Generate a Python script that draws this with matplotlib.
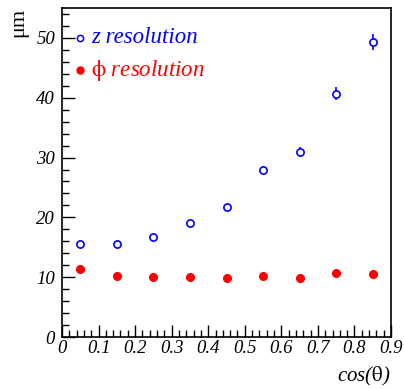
import numpy as np
import matplotlib.pyplot as plt
from matplotlib.ticker import MultipleLocator, FuncFormatter

cos_theta = [0.05, 0.15, 0.25, 0.35, 0.45, 0.55, 0.65, 0.75, 0.85]
z_res = [15.5, 15.6, 16.8, 19.1, 21.7, 27.9, 31.0, 40.7, 49.3]
z_err = [0.4, 0.4, 0.5, 0.5, 0.4, 0.7, 0.7, 1.1, 1.4]
phi_res = [11.3, 10.2, 10.1, 10.1, 9.9, 10.2, 9.8, 10.7, 10.5]

plt.rcParams['font.family'] = ['Liberation Serif', 'DejaVu Serif']
plt.rcParams['mathtext.fontset'] = 'stix'

fig = plt.figure(figsize=(4.04, 3.89), dpi=100)
ax = fig.add_axes([62 / 404, 1 - 337 / 389, 329 / 404, 329 / 389])

ax.errorbar(cos_theta, z_res, yerr=z_err, fmt='o', mfc='white', mec='blue',
            ecolor='blue', ms=5.2, mew=1.2, elinewidth=1.2, capsize=0, zorder=3)
ax.plot(cos_theta, phi_res, 'o', color='red', ms=5.5, zorder=3)

ax.set_xlim(0, 0.9)
ax.set_ylim(0, 55)
ax.xaxis.set_major_locator(MultipleLocator(0.1))
ax.xaxis.set_minor_locator(MultipleLocator(0.02))
ax.yaxis.set_major_locator(MultipleLocator(10))
ax.yaxis.set_minor_locator(MultipleLocator(2))
ax.xaxis.set_major_formatter(FuncFormatter(lambda v, p: '0' if abs(v) < 1e-9 else '%.1f' % v))
ax.yaxis.set_major_formatter(FuncFormatter(lambda v, p: '%d' % round(v)))
ax.tick_params(which='both', direction='in', top=False, right=False)
ax.tick_params(which='major', length=9, width=1, labelsize=13.5)
ax.tick_params(which='minor', length=5, width=1)
ax.tick_params(axis='x', pad=2)
ax.tick_params(axis='y', pad=5)
for lab in ax.get_xticklabels() + ax.get_yticklabels():
    lab.set_style('italic')
for s in ax.spines.values():
    s.set_linewidth(1.2)

fig.text(19 / 404, 1 - 22 / 389, 'μm', rotation=90, fontsize=16,
         ha='center', va='center')
fig.text(390 / 404, 1 - 376 / 389, r'cos($\mathrm{\theta}$)', fontsize=15,
         ha='right', va='center', style='italic')

# legend
ax.plot([0.048], [50.0], 'o', mfc='white', mec='blue', ms=4.5, mew=1.1,
        clip_on=False)
ax.plot([0.048], [44.6], 'o', color='red', ms=5, clip_on=False)
ax.text(0.08, 50.0, 'z resolution', color='blue', fontsize=16.5,
        style='italic', va='center')
ax.text(0.08, 44.6, r'$\mathrm{\phi}$ resolution', color='red', fontsize=16.5,
        style='italic', va='center')

fig.savefig('out.png', dpi=100)
